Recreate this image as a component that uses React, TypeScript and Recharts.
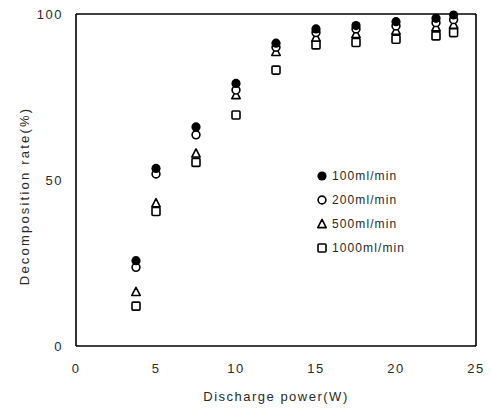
import {
  ScatterChart,
  Scatter,
  XAxis,
  YAxis,
  ReferenceLine,
  Label,
} from "recharts";

// discharge power (W)
const power = [3.75, 5, 7.5, 10, 12.5, 15, 17.5, 20, 22.5, 23.6];

// decomposition rate (%)
const rate100 = [25.7, 53.5, 66.0, 79.1, 91.2, 95.5, 96.5, 97.7, 98.7, 99.7];
const rate200 = [23.7, 51.8, 63.6, 77.1, 90.0, 94.4, 95.5, 96.4, 97.4, 98.3];
const rate500 = [16.3, 43.0, 58.0, 75.6, 88.6, 92.9, 94.0, 95.0, 96.0, 96.8];
const rate1000 = [12.0, 40.5, 55.3, 69.6, 83.1, 90.7, 91.4, 92.4, 93.4, 94.4];

const xTicks = [0, 5, 10, 15, 20, 25];
const yTicks = [0, 50, 100];

const seriesNames = ["100ml/min", "200ml/min", "500ml/min", "1000ml/min"];
const markers = ["dot", "ring", "triangle", "square"];

const toPoints = (vals: number[]) =>
  power.map((p, i) => ({ x: p, y: vals[i] }));

const textColor = "#2a2a2a";
const font = "'Liberation Sans', Arial, sans-serif";

function Marker({ kind, cx, cy }: { kind: string; cx: number; cy: number }) {
  if (kind === "dot") {
    return <circle cx={cx} cy={cy} r={4.6} fill="#000" />;
  }
  if (kind === "ring") {
    return (
      <circle cx={cx} cy={cy} r={3.9} fill="#fff" stroke="#000" strokeWidth={1.6} />
    );
  }
  if (kind === "triangle") {
    return (
      <polygon
        points={`${cx},${cy - 4.6} ${cx - 4.2},${cy + 3.6} ${cx + 4.2},${cy + 3.6}`}
        fill="#fff"
        stroke="#000"
        strokeWidth={1.6}
        strokeLinejoin="round"
      />
    );
  }
  return (
    <rect
      x={cx - 4}
      y={cy - 4}
      width={8}
      height={8}
      rx={1}
      fill="#fff"
      stroke="#000"
      strokeWidth={1.6}
    />
  );
}

const makeShape = (kind: string) => (props: any) =>
  <Marker kind={kind} cx={props.cx} cy={props.cy} />;

function LegendBox() {
  return (
    <div
      style={{
        position: "absolute",
        left: 315,
        top: 164,
        fontFamily: font,
      }}
    >
      {seriesNames.map((name, i) => (
        <div
          key={name}
          style={{ display: "flex", alignItems: "center", height: 24 }}
        >
          <svg width={14} height={14} style={{ marginRight: 3 }}>
            <Marker kind={markers[i]} cx={7} cy={7} />
          </svg>
          <span style={{ fontSize: 12, letterSpacing: 1.1, color: textColor }}>
            {name}
          </span>
        </div>
      ))}
    </div>
  );
}

export default function App() {
  const tickStyle = {
    fontSize: 13,
    letterSpacing: 1.5,
    fill: textColor,
    fontFamily: font,
  };

  return (
    <div
      style={{
        position: "absolute",
        left: 0,
        top: 0,
        width: 491,
        height: 409,
        background: "#fff",
      }}
    >
      <ScatterChart
        width={491}
        height={409}
        margin={{ top: 14, right: 15, left: 16, bottom: 23 }}
      >
        <XAxis
          type="number"
          dataKey="x"
          domain={[0, 25]}
          ticks={xTicks}
          tickLine={false}
          tickSize={0}
          tickMargin={18}
          axisLine={{ stroke: "#000", strokeWidth: 1.6 }}
          tick={tickStyle}
          height={40}
        >
          <Label
            content={() => (
              <text
                x={276}
                y={401}
                textAnchor="middle"
                fontSize={13}
                letterSpacing={1.5}
                fill={textColor}
                fontFamily={font}
              >
                Discharge power(W)
              </text>
            )}
          />
        </XAxis>
        <YAxis
          type="number"
          dataKey="y"
          domain={[0, 100]}
          ticks={yTicks}
          tickLine={false}
          tickSize={0}
          tickMargin={13}
          axisLine={{ stroke: "#000", strokeWidth: 1.6 }}
          tick={tickStyle}
          width={60}
        >
          <Label
            content={() => (
              <text
                x={24}
                y={196}
                transform="rotate(-90 24 196)"
                textAnchor="middle"
                dominantBaseline="central"
                fontSize={13}
                letterSpacing={2.2}
                fill={textColor}
                fontFamily={font}
              >
                Decomposition rate(%)
              </text>
            )}
          />
        </YAxis>
        <ReferenceLine y={100} stroke="#000" strokeWidth={1.6} />
        <ReferenceLine x={25} stroke="#000" strokeWidth={1.6} />
        <Scatter
          name={seriesNames[3]}
          data={toPoints(rate1000)}
          shape={makeShape("square")}
          isAnimationActive={false}
        />
        <Scatter
          name={seriesNames[2]}
          data={toPoints(rate500)}
          shape={makeShape("triangle")}
          isAnimationActive={false}
        />
        <Scatter
          name={seriesNames[1]}
          data={toPoints(rate200)}
          shape={makeShape("ring")}
          isAnimationActive={false}
        />
        <Scatter
          name={seriesNames[0]}
          data={toPoints(rate100)}
          shape={makeShape("dot")}
          isAnimationActive={false}
        />
      </ScatterChart>
      <LegendBox />
    </div>
  );
}
